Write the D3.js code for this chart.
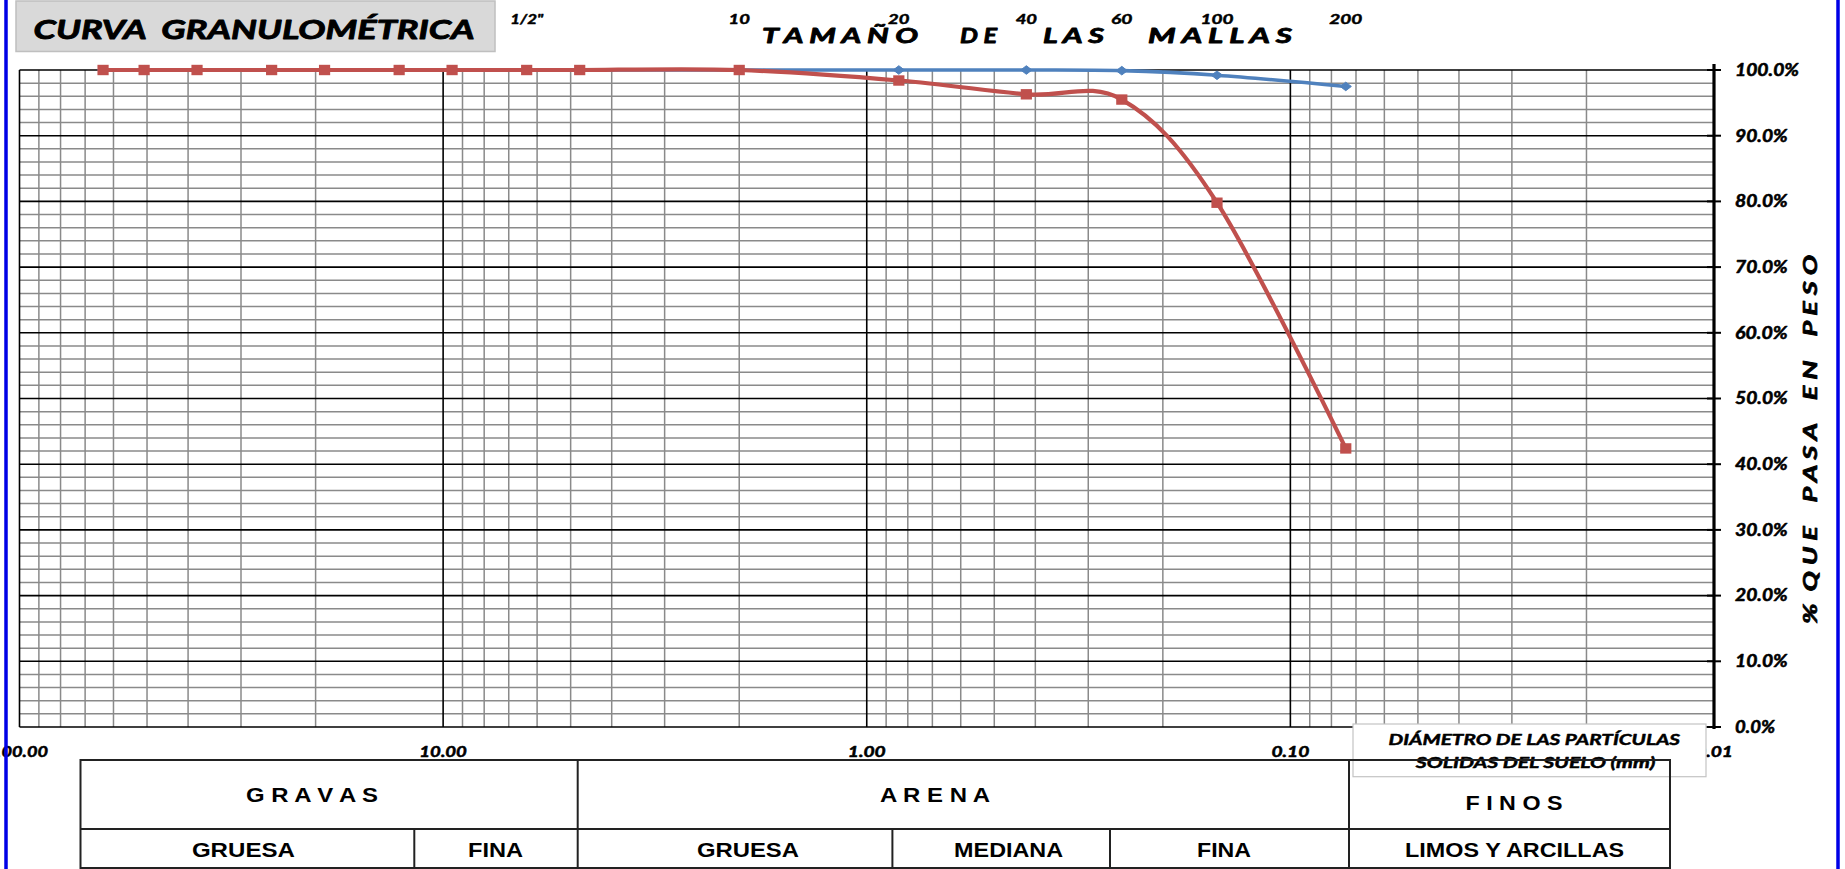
<!DOCTYPE html>
<html>
<head>
<meta charset="utf-8">
<script src="https://cdn.jsdelivr.net/npm/d3@7/dist/d3.min.js"></script>
<style>
  html, body { margin: 0; padding: 0; background: #fff; overflow: hidden; }
  svg { display: block; }
  text { white-space: pre; }
</style>
</head>
<body>
<svg id="chart" width="1845" height="869"></svg>
<script>
// ---------------- DATA ----------------
const sieveNames   = ['2 1/2"', '2"', '1 1/2"', '1"', '3/4"', '1/2"', '3/8"', '1/4"', 'N°4', 'N°10', 'N°20', 'N°40', 'N°60', 'N°100', 'N°200'];
const sieveSizesMm = [63.5, 50.8, 38.1, 25.4, 19.05, 12.7, 9.525, 6.35, 4.76, 2.0, 0.84, 0.42, 0.25, 0.149, 0.074];
const passingRed   = [100, 100, 100, 100, 100, 100, 100, 100, 100, 100, 98.4, 96.3, 95.5, 79.8, 42.4];
const passingBlue  = [100, 100, 100, 100, 100, 100, 100, 100, 100, 100, 100, 100, 99.9, 99.2, 97.5];

const meshLabels   = ['1/2"', '10', '20', '40', '60', '100', '200'];
const meshLabelMm  = [6.35, 2.0, 0.84, 0.42, 0.25, 0.149, 0.074];

const xTickValues  = [100, 10, 1, 0.1, 0.01];
const xTickLabels  = ['100.00', '10.00', '1.00', '0.10', '0.01'];
const yTickValues  = [0, 10, 20, 30, 40, 50, 60, 70, 80, 90, 100];
const yTickLabels  = ['0.0%', '10.0%', '20.0%', '30.0%', '40.0%', '50.0%', '60.0%', '70.0%', '80.0%', '90.0%', '100.0%'];

const titleText    = 'CURVA  GRANULOMÉTRICA';
const meshTitleWords = ['T A M A Ñ O', 'D E', 'L A S', 'M A L L A S'];
const yAxisTitle   = '%  Q U E    P A S A    E N    P E S O';
const diamLines    = ['DIÁMETRO DE LAS PARTÍCULAS', 'SOLIDAS DEL SUELO (mm)'];
const soilGroups   = ['G R A V A S', 'A R E N A', 'F I N O S'];
const soilSubs     = ['GRUESA', 'FINA', 'GRUESA', 'MEDIANA', 'FINA', 'LIMOS Y ARCILLAS'];

// ---------------- LAYOUT ----------------
const W = 1845, H = 869;
const plot = { left: 19.5, right: 1714, top: 70, bottom: 727 };
const RED = '#c0504d', BLUE = '#4f81bd';
const CAL = "Lato, 'Open Sans', sans-serif";
const ARIAL = "'Liberation Sans', Arial, sans-serif";

const svg = d3.select('#chart');

const x = d3.scaleLog().domain([100, 0.01]).range([plot.left, plot.right]);
const y = d3.scaleLinear().domain([0, 100]).range([plot.bottom, plot.top]);

function addText(parent, str, xPos, baseline, o) {
  const start = o.anchor === 'start' ? xPos : xPos - o.w / 2;
  const t = parent.append('text')
    .attr('x', start)
    .attr('y', baseline)
    .attr('font-family', o.family)
    .attr('font-size', o.size)
    .attr('font-weight', o.weight || 'bold')
    .attr('font-style', o.italic ? 'italic' : 'normal')
    .attr('fill', o.fill || '#000')
    .attr('textLength', o.w)
    .attr('lengthAdjust', 'spacingAndGlyphs')
    .text(str);
  if (o.stroke) t.attr('stroke', '#000').attr('stroke-width', o.stroke).attr('stroke-linejoin', 'round');
  return t;
}

// ---------------- GRID ----------------
const grid = svg.append('g');
const minorX = [];
[10, 1, 0.1, 0.01].forEach(d => { for (let k = 2; k <= 9; k++) minorX.push(k * d); });
grid.selectAll('line.vminor').data(minorX).enter().append('line')
  .attr('x1', d => x(d)).attr('x2', d => x(d))
  .attr('y1', plot.top).attr('y2', plot.bottom)
  .attr('stroke', '#8a8a8a').attr('stroke-width', 1.5);
const minorY = d3.range(0, 101, 2).filter(v => v % 10 !== 0);
grid.selectAll('line.hminor').data(minorY).enter().append('line')
  .attr('x1', plot.left).attr('x2', plot.right)
  .attr('y1', d => y(d)).attr('y2', d => y(d))
  .attr('stroke', '#8a8a8a').attr('stroke-width', 1.5);
grid.selectAll('line.hmajor').data(yTickValues).enter().append('line')
  .attr('x1', plot.left).attr('x2', plot.right)
  .attr('y1', d => y(d)).attr('y2', d => y(d))
  .attr('stroke', '#000').attr('stroke-width', 1.6);
grid.selectAll('line.vmajor').data(xTickValues.slice(0, 4)).enter().append('line')
  .attr('x1', d => x(d)).attr('x2', d => x(d))
  .attr('y1', plot.top).attr('y2', plot.bottom)
  .attr('stroke', '#000').attr('stroke-width', 1.6);

// right axis (thick) with cross ticks
const axisX = x(0.01);
svg.append('line')
  .attr('x1', axisX).attr('x2', axisX)
  .attr('y1', plot.top - 6).attr('y2', plot.bottom + 2)
  .attr('stroke', '#000').attr('stroke-width', 3.2);
svg.selectAll('line.ytick').data(yTickValues).enter().append('line')
  .attr('x1', axisX - 7).attr('x2', axisX + 7)
  .attr('y1', d => y(d)).attr('y2', d => y(d))
  .attr('stroke', '#000').attr('stroke-width', 2);

// ---------------- SERIES ----------------
const redData  = sieveSizesMm.map((s, i) => ({ s, p: passingRed[i] }));
const blueData = sieveSizesMm.map((s, i) => ({ s, p: passingBlue[i] }));
const line = d3.line().x(d => x(d.s)).y(d => y(d.p)).curve(d3.curveCardinal.tension(0));

svg.append('path').datum(blueData).attr('d', line)
  .attr('fill', 'none').attr('stroke', BLUE).attr('stroke-width', 3.6).attr('stroke-linejoin', 'round');
svg.selectAll('path.diam').data(blueData).enter().append('path')
  .attr('d', d => {
    const cx = x(d.s), cy = y(d.p);
    return `M${cx - 5.6},${cy} L${cx},${cy - 4.3} L${cx + 5.6},${cy} L${cx},${cy + 4.3} Z`;
  })
  .attr('fill', BLUE).attr('stroke', BLUE).attr('stroke-width', 1);

svg.append('path').datum(redData).attr('d', line)
  .attr('fill', 'none').attr('stroke', RED).attr('stroke-width', 4.2).attr('stroke-linejoin', 'round');
svg.selectAll('rect.sq').data(redData).enter().append('rect')
  .attr('x', d => x(d.s) - 5.6).attr('y', d => y(d.p) - 5.2)
  .attr('width', 11.2).attr('height', 10.4)
  .attr('fill', RED);

// ---------------- AXIS LABELS ----------------
yTickValues.forEach((v, i) => {
  const lab = yTickLabels[i];
  const w = lab.length === 6 ? 64 : (lab.length === 5 ? 52.7 : 40);
  addText(svg, lab, 1735, y(v) + 5.8, { family: CAL, size: 16.5, italic: true, w, anchor: 'start', stroke: 0.55 });
});
xTickValues.forEach((v, i) => {
  const lab = xTickLabels[i];
  const w = lab.length === 6 ? 57 : (lab.length === 5 ? 47.6 : 38);
  addText(svg, lab, x(v), 757, { family: CAL, size: 16, italic: true, w, stroke: 0.55 });
});
meshLabels.forEach((lab, i) => {
  const w = lab.length === 3 ? 33 : (lab.length === 2 ? 21.4 : 33);
  addText(svg, lab, x(meshLabelMm[i]), 24, { family: CAL, size: 13.5, italic: true, w, stroke: 0.45 });
});
// mesh title: one word per text element
const meshWordBox = [[762, 156], [960, 37], [1043, 61], [1148, 144]];
meshTitleWords.forEach((wd, i) => addText(svg, wd, meshWordBox[i][0], 43, { family: CAL, size: 20, italic: true, w: meshWordBox[i][1], anchor: 'start', stroke: 0.8 }));

const yt = svg.append('g').attr('transform', 'translate(1817,439.5) rotate(-90)');
addText(yt, yAxisTitle, 0, 0, { family: CAL, size: 18, italic: true, w: 369, stroke: 0.7 });

// ---------------- TITLE BOX ----------------
svg.append('rect').attr('x', 16).attr('y', 1).attr('width', 479).attr('height', 50.5)
  .attr('fill', '#d9d9d9').attr('stroke', '#bfbfbf').attr('stroke-width', 1.5);
addText(svg, titleText, 33.6, 38.5, { family: CAL, size: 27.5, italic: true, w: 441, anchor: 'start', stroke: 0.9 });

// ---------------- DIAMETER BOX ----------------
svg.append('rect').attr('x', 1353).attr('y', 724).attr('width', 353).attr('height', 52.7)
  .attr('fill', '#fff').attr('stroke', '#c4c4c4').attr('stroke-width', 1.2);
addText(svg, diamLines[0], 1388.5, 744.5, { family: CAL, size: 16, italic: true, w: 291.5, anchor: 'start', stroke: 0.5 });
addText(svg, diamLines[1], 1415.8, 768, { family: CAL, size: 16, italic: true, w: 239.5, anchor: 'start', stroke: 0.5 });

// ---------------- SOIL TABLE ----------------
const tb = { left: 80.5, right: 1670, top: 760, mid: 829, bottom: 868 };
const tg = svg.append('g').attr('stroke', '#222').attr('stroke-width', 2).attr('fill', 'none');
tg.append('rect').attr('x', tb.left).attr('y', tb.top).attr('width', tb.right - tb.left).attr('height', tb.bottom - tb.top);
tg.append('line').attr('x1', tb.left).attr('x2', tb.right).attr('y1', tb.mid).attr('y2', tb.mid);
[577.7, 1349].forEach(xx => tg.append('line').attr('x1', xx).attr('x2', xx).attr('y1', tb.top).attr('y2', tb.bottom));
[414.3, 892.4, 1110].forEach(xx => tg.append('line').attr('x1', xx).attr('x2', xx).attr('y1', tb.mid).attr('y2', tb.bottom));

const groupPos = [[312, 802, 132], [935, 802, 110], [1514, 810, 97]];
soilGroups.forEach((s, i) => addText(svg, s, groupPos[i][0], groupPos[i][1], { family: ARIAL, size: 20, w: groupPos[i][2] }));
const subPos = [[243.4, 103], [495.6, 55], [748, 102], [1008.6, 109], [1224, 54], [1514.6, 219]];
soilSubs.forEach((s, i) => addText(svg, s, subPos[i][0], 856.5, { family: ARIAL, size: 20.5, w: subPos[i][1] }));

// ---------------- BLUE FRAME ----------------
svg.append('line').attr('x1', 6).attr('x2', 6).attr('y1', 0).attr('y2', H).attr('stroke', '#0000e6').attr('stroke-width', 3.5);
svg.append('line').attr('x1', 1838).attr('x2', 1838).attr('y1', 0).attr('y2', H).attr('stroke', '#0000e6').attr('stroke-width', 3.5);
</script>
</body>
</html>
